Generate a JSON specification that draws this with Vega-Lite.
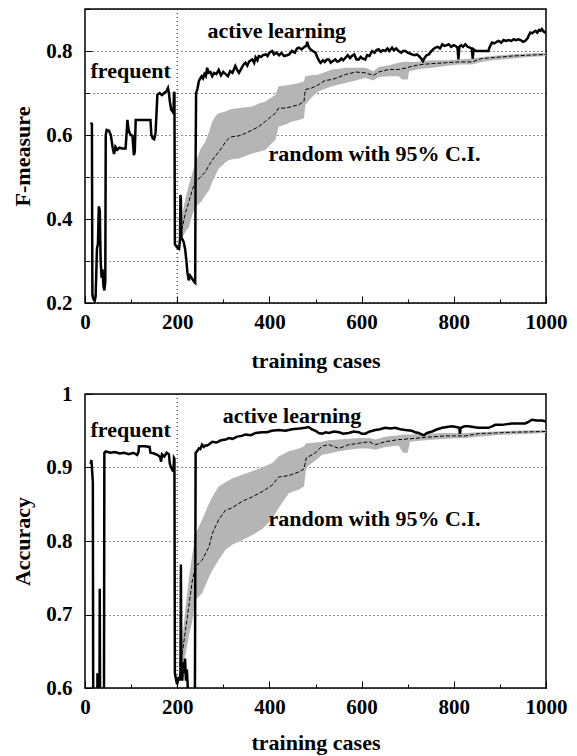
{
  "$schema": "https://vega.github.io/schema/vega-lite/v6.json",
  "padding": {"left": 11, "top": 7, "right": 5, "bottom": 3},
  "spacing": 10,
  "config": {
    "view": {"stroke": "#000", "strokeWidth": 1.5},
    "font": "Liberation Serif",
    "axis": {
      "labelFont": "Liberation Serif", "labelFontWeight": "bold", "labelFontSize": 21, "labelColor": "#000", "labelFlush": false,
      "titleFont": "Liberation Serif", "titleFontWeight": "bold", "titleFontSize": 22, "titleColor": "#000",
      "domain": false, "tickColor": "#000", "tickWidth": 1,
      "gridColor": "#000", "gridDash": [1, 3], "gridWidth": 1, "gridOpacity": 0.9
    }
  },
  "datasets": {
    "f_active": [
      {"x":13,"y":0.63},{"x":15,"y":0.625},{"x":16,"y":0.22},{"x":18,"y":0.21},{"x":21,"y":0.205},{"x":23,"y":0.215},{"x":26,"y":0.33},{"x":28,"y":0.34},{"x":30,"y":0.43},{"x":32,"y":0.42},{"x":34,"y":0.3},{"x":36,"y":0.26},{"x":38,"y":0.28},{"x":40,"y":0.24},{"x":42,"y":0.23},{"x":44,"y":0.25},{"x":45,"y":0.6},{"x":47,"y":0.612},{"x":52,"y":0.61},{"x":56,"y":0.6},{"x":60,"y":0.57},{"x":63,"y":0.555},{"x":66,"y":0.572},{"x":70,"y":0.565},{"x":75,"y":0.57},{"x":80,"y":0.568},{"x":88,"y":0.568},{"x":90,"y":0.6},{"x":92,"y":0.636},{"x":95,"y":0.61},{"x":99,"y":0.6},{"x":103,"y":0.598},{"x":106,"y":0.552},{"x":108,"y":0.56},{"x":110,"y":0.636},{"x":142,"y":0.636},{"x":144,"y":0.6},{"x":147,"y":0.592},{"x":150,"y":0.59},{"x":153,"y":0.604},{"x":155,"y":0.65},{"x":157,"y":0.696},{"x":162,"y":0.7},{"x":167,"y":0.695},{"x":172,"y":0.7},{"x":177,"y":0.705},{"x":180,"y":0.712},{"x":182,"y":0.7},{"x":184,"y":0.68},{"x":187,"y":0.66},{"x":190,"y":0.656},{"x":192,"y":0.652},{"x":193,"y":0.7},{"x":194,"y":0.7},{"x":195,"y":0.34},{"x":198,"y":0.335},{"x":202,"y":0.33},{"x":204,"y":0.329},{"x":206,"y":0.35},{"x":207,"y":0.457},{"x":208,"y":0.45},{"x":209,"y":0.357},{"x":212,"y":0.35},{"x":214,"y":0.345},{"x":217,"y":0.33},{"x":220,"y":0.3},{"x":222,"y":0.274},{"x":225,"y":0.254},{"x":228,"y":0.265},{"x":231,"y":0.26},{"x":234,"y":0.255},{"x":237,"y":0.25},{"x":239,"y":0.248},{"x":240,"y":0.55},{"x":241,"y":0.7},{"x":244,"y":0.71},{"x":247,"y":0.728},{"x":250,"y":0.735},{"x":253,"y":0.74},{"x":256,"y":0.735},{"x":259,"y":0.745},{"x":262,"y":0.74},{"x":265,"y":0.76},{"x":268,"y":0.748},{"x":272,"y":0.75},{"x":276,"y":0.74},{"x":280,"y":0.748},{"x":285,"y":0.745},{"x":290,"y":0.755},{"x":295,"y":0.742},{"x":300,"y":0.75},{"x":305,"y":0.745},{"x":310,"y":0.74},{"x":315,"y":0.752},{"x":320,"y":0.748},{"x":326,"y":0.764},{"x":330,"y":0.755},{"x":334,"y":0.748},{"x":340,"y":0.76},{"x":344,"y":0.768},{"x":348,"y":0.772},{"x":352,"y":0.765},{"x":356,"y":0.775},{"x":360,"y":0.778},{"x":363,"y":0.78},{"x":367,"y":0.772},{"x":370,"y":0.785},{"x":374,"y":0.778},{"x":377,"y":0.788},{"x":382,"y":0.786},{"x":386,"y":0.79},{"x":392,"y":0.792},{"x":396,"y":0.788},{"x":400,"y":0.796},{"x":406,"y":0.8},{"x":410,"y":0.792},{"x":415,"y":0.796},{"x":421,"y":0.79},{"x":426,"y":0.795},{"x":432,"y":0.788},{"x":438,"y":0.79},{"x":443,"y":0.792},{"x":449,"y":0.8},{"x":455,"y":0.796},{"x":460,"y":0.806},{"x":464,"y":0.808},{"x":470,"y":0.804},{"x":476,"y":0.81},{"x":480,"y":0.812},{"x":482,"y":0.822},{"x":485,"y":0.81},{"x":489,"y":0.804},{"x":494,"y":0.8},{"x":500,"y":0.796},{"x":504,"y":0.785},{"x":508,"y":0.776},{"x":511,"y":0.772},{"x":516,"y":0.778},{"x":520,"y":0.774},{"x":525,"y":0.78},{"x":529,"y":0.78},{"x":533,"y":0.772},{"x":538,"y":0.776},{"x":543,"y":0.78},{"x":547,"y":0.775},{"x":551,"y":0.776},{"x":556,"y":0.782},{"x":560,"y":0.778},{"x":565,"y":0.784},{"x":570,"y":0.79},{"x":575,"y":0.783},{"x":579,"y":0.788},{"x":584,"y":0.792},{"x":589,"y":0.78},{"x":594,"y":0.78},{"x":598,"y":0.786},{"x":602,"y":0.782},{"x":608,"y":0.78},{"x":612,"y":0.79},{"x":617,"y":0.788},{"x":623,"y":0.8},{"x":628,"y":0.796},{"x":632,"y":0.802},{"x":637,"y":0.804},{"x":642,"y":0.798},{"x":646,"y":0.802},{"x":651,"y":0.8},{"x":656,"y":0.806},{"x":660,"y":0.8},{"x":666,"y":0.808},{"x":670,"y":0.802},{"x":675,"y":0.806},{"x":680,"y":0.8},{"x":686,"y":0.796},{"x":690,"y":0.8},{"x":695,"y":0.8},{"x":700,"y":0.796},{"x":705,"y":0.794},{"x":709,"y":0.792},{"x":715,"y":0.79},{"x":720,"y":0.792},{"x":724,"y":0.788},{"x":728,"y":0.784},{"x":733,"y":0.776},{"x":737,"y":0.784},{"x":741,"y":0.79},{"x":746,"y":0.792},{"x":750,"y":0.798},{"x":755,"y":0.804},{"x":760,"y":0.808},{"x":765,"y":0.81},{"x":770,"y":0.806},{"x":775,"y":0.816},{"x":780,"y":0.812},{"x":785,"y":0.814},{"x":789,"y":0.816},{"x":794,"y":0.81},{"x":800,"y":0.814},{"x":804,"y":0.812},{"x":808,"y":0.808},{"x":810,"y":0.78},{"x":812,"y":0.81},{"x":816,"y":0.814},{"x":820,"y":0.81},{"x":825,"y":0.816},{"x":830,"y":0.81},{"x":835,"y":0.808},{"x":839,"y":0.806},{"x":841,"y":0.782},{"x":843,"y":0.804},{"x":848,"y":0.8},{"x":853,"y":0.8},{"x":860,"y":0.8},{"x":868,"y":0.8},{"x":875,"y":0.8},{"x":878,"y":0.81},{"x":883,"y":0.82},{"x":888,"y":0.818},{"x":893,"y":0.822},{"x":897,"y":0.824},{"x":903,"y":0.82},{"x":908,"y":0.826},{"x":913,"y":0.824},{"x":919,"y":0.826},{"x":925,"y":0.824},{"x":930,"y":0.828},{"x":935,"y":0.826},{"x":940,"y":0.828},{"x":945,"y":0.826},{"x":950,"y":0.822},{"x":955,"y":0.824},{"x":960,"y":0.83},{"x":963,"y":0.838},{"x":966,"y":0.844},{"x":970,"y":0.842},{"x":974,"y":0.846},{"x":977,"y":0.848},{"x":981,"y":0.844},{"x":985,"y":0.85},{"x":988,"y":0.848},{"x":991,"y":0.852},{"x":995,"y":0.846},{"x":998,"y":0.844},{"x":1000,"y":0.848}
    ],
    "f_random": [
      {"x":205,"mean":0.36,"lo":0.35,"hi":0.38},{"x":211,"mean":0.38,"lo":0.355,"hi":0.41},{"x":218,"mean":0.415,"lo":0.37,"hi":0.45},{"x":225,"mean":0.44,"lo":0.38,"hi":0.48},{"x":233,"mean":0.47,"lo":0.41,"hi":0.51},{"x":240,"mean":0.49,"lo":0.43,"hi":0.535},{"x":251,"mean":0.5,"lo":0.44,"hi":0.568},{"x":261,"mean":0.512,"lo":0.456,"hi":0.584},{"x":270,"mean":0.53,"lo":0.47,"hi":0.61},{"x":276,"mean":0.54,"lo":0.488,"hi":0.632},{"x":283,"mean":0.55,"lo":0.505,"hi":0.645},{"x":290,"mean":0.56,"lo":0.52,"hi":0.652},{"x":300,"mean":0.575,"lo":0.53,"hi":0.655},{"x":305,"mean":0.584,"lo":0.536,"hi":0.656},{"x":312,"mean":0.592,"lo":0.54,"hi":0.66},{"x":319,"mean":0.596,"lo":0.542,"hi":0.662},{"x":334,"mean":0.598,"lo":0.544,"hi":0.664},{"x":348,"mean":0.604,"lo":0.55,"hi":0.666},{"x":363,"mean":0.612,"lo":0.556,"hi":0.668},{"x":377,"mean":0.62,"lo":0.56,"hi":0.675},{"x":391,"mean":0.632,"lo":0.564,"hi":0.68},{"x":405,"mean":0.645,"lo":0.58,"hi":0.69},{"x":413,"mean":0.652,"lo":0.588,"hi":0.696},{"x":420,"mean":0.664,"lo":0.62,"hi":0.716},{"x":435,"mean":0.664,"lo":0.625,"hi":0.718},{"x":449,"mean":0.668,"lo":0.632,"hi":0.72},{"x":464,"mean":0.672,"lo":0.636,"hi":0.724},{"x":475,"mean":0.68,"lo":0.64,"hi":0.728},{"x":478,"mean":0.708,"lo":0.672,"hi":0.74},{"x":492,"mean":0.712,"lo":0.69,"hi":0.742},{"x":507,"mean":0.72,"lo":0.704,"hi":0.744},{"x":521,"mean":0.73,"lo":0.71,"hi":0.75},{"x":536,"mean":0.732,"lo":0.716,"hi":0.756},{"x":551,"mean":0.738,"lo":0.72,"hi":0.758},{"x":565,"mean":0.744,"lo":0.724,"hi":0.76},{"x":587,"mean":0.75,"lo":0.73,"hi":0.76},{"x":608,"mean":0.748,"lo":0.736,"hi":0.76},{"x":626,"mean":0.742,"lo":0.73,"hi":0.752},{"x":637,"mean":0.75,"lo":0.738,"hi":0.762},{"x":659,"mean":0.756,"lo":0.74,"hi":0.766},{"x":680,"mean":0.756,"lo":0.74,"hi":0.772},{"x":688,"mean":0.758,"lo":0.732,"hi":0.774},{"x":700,"mean":0.76,"lo":0.732,"hi":0.775},{"x":703,"mean":0.762,"lo":0.752,"hi":0.774},{"x":720,"mean":0.766,"lo":0.756,"hi":0.774},{"x":731,"mean":0.768,"lo":0.758,"hi":0.776},{"x":753,"mean":0.77,"lo":0.76,"hi":0.778},{"x":782,"mean":0.772,"lo":0.764,"hi":0.778},{"x":811,"mean":0.774,"lo":0.768,"hi":0.78},{"x":839,"mean":0.774,"lo":0.768,"hi":0.782},{"x":861,"mean":0.782,"lo":0.774,"hi":0.786},{"x":883,"mean":0.784,"lo":0.778,"hi":0.788},{"x":926,"mean":0.788,"lo":0.782,"hi":0.792},{"x":962,"mean":0.79,"lo":0.786,"hi":0.794},{"x":1000,"mean":0.792,"lo":0.788,"hi":0.796}
    ],
    "f_labels": [
      {"x":416,"y":0.832,"label":"active learning"},
      {"x":99,"y":0.735,"label":"frequent"},
      {"x":628,"y":0.539,"label":"random with 95% C.I."}
    ],
    "a_active": [
      {"x":12,"y":0.905},{"x":14,"y":0.91},{"x":15,"y":0.9},{"x":16,"y":0.89},{"x":17,"y":0.88},{"x":18,"y":0.5},{"x":26,"y":0.5},{"x":27,"y":0.62},{"x":28,"y":0.5},{"x":31,"y":0.5},{"x":32,"y":0.735},{"x":33,"y":0.5},{"x":41,"y":0.5},{"x":42,"y":0.92},{"x":45,"y":0.922},{"x":55,"y":0.92},{"x":65,"y":0.921},{"x":75,"y":0.919},{"x":85,"y":0.92},{"x":95,"y":0.918},{"x":105,"y":0.92},{"x":113,"y":0.917},{"x":116,"y":0.921},{"x":117,"y":0.929},{"x":130,"y":0.929},{"x":140,"y":0.928},{"x":142,"y":0.92},{"x":150,"y":0.919},{"x":158,"y":0.917},{"x":163,"y":0.914},{"x":165,"y":0.908},{"x":167,"y":0.918},{"x":172,"y":0.915},{"x":177,"y":0.92},{"x":182,"y":0.918},{"x":184,"y":0.905},{"x":187,"y":0.9},{"x":190,"y":0.896},{"x":192,"y":0.895},{"x":193,"y":0.913},{"x":194,"y":0.912},{"x":195,"y":0.62},{"x":198,"y":0.61},{"x":200,"y":0.605},{"x":203,"y":0.615},{"x":205,"y":0.61},{"x":207,"y":0.62},{"x":208,"y":0.768},{"x":209,"y":0.62},{"x":211,"y":0.61},{"x":213,"y":0.635},{"x":215,"y":0.62},{"x":217,"y":0.64},{"x":219,"y":0.61},{"x":221,"y":0.625},{"x":223,"y":0.6},{"x":224,"y":0.5},{"x":238,"y":0.5},{"x":240,"y":0.92},{"x":243,"y":0.922},{"x":247,"y":0.926},{"x":250,"y":0.925},{"x":254,"y":0.931},{"x":258,"y":0.928},{"x":261,"y":0.93},{"x":265,"y":0.93},{"x":270,"y":0.932},{"x":276,"y":0.935},{"x":285,"y":0.934},{"x":295,"y":0.937},{"x":305,"y":0.938},{"x":312,"y":0.94},{"x":320,"y":0.939},{"x":330,"y":0.942},{"x":340,"y":0.943},{"x":348,"y":0.945},{"x":360,"y":0.944},{"x":370,"y":0.947},{"x":384,"y":0.948},{"x":395,"y":0.948},{"x":405,"y":0.95},{"x":420,"y":0.951},{"x":435,"y":0.95},{"x":449,"y":0.952},{"x":465,"y":0.953},{"x":478,"y":0.954},{"x":485,"y":0.955},{"x":492,"y":0.952},{"x":500,"y":0.95},{"x":507,"y":0.947},{"x":515,"y":0.946},{"x":522,"y":0.948},{"x":529,"y":0.947},{"x":540,"y":0.949},{"x":551,"y":0.948},{"x":560,"y":0.946},{"x":572,"y":0.947},{"x":583,"y":0.949},{"x":594,"y":0.948},{"x":600,"y":0.946},{"x":608,"y":0.946},{"x":618,"y":0.949},{"x":630,"y":0.951},{"x":640,"y":0.952},{"x":651,"y":0.954},{"x":662,"y":0.953},{"x":673,"y":0.954},{"x":684,"y":0.952},{"x":695,"y":0.951},{"x":709,"y":0.95},{"x":716,"y":0.948},{"x":724,"y":0.947},{"x":730,"y":0.945},{"x":735,"y":0.944},{"x":742,"y":0.947},{"x":753,"y":0.949},{"x":764,"y":0.952},{"x":775,"y":0.954},{"x":785,"y":0.955},{"x":796,"y":0.956},{"x":805,"y":0.955},{"x":812,"y":0.954},{"x":813,"y":0.946},{"x":815,"y":0.954},{"x":823,"y":0.956},{"x":832,"y":0.956},{"x":842,"y":0.955},{"x":853,"y":0.954},{"x":864,"y":0.954},{"x":875,"y":0.954},{"x":883,"y":0.956},{"x":890,"y":0.958},{"x":905,"y":0.958},{"x":915,"y":0.959},{"x":926,"y":0.96},{"x":940,"y":0.96},{"x":955,"y":0.96},{"x":962,"y":0.962},{"x":969,"y":0.965},{"x":980,"y":0.964},{"x":991,"y":0.964},{"x":998,"y":0.963},{"x":1000,"y":0.963}
    ],
    "a_random": [
      {"x":205,"mean":0.63,"lo":0.62,"hi":0.64},{"x":211,"mean":0.647,"lo":0.629,"hi":0.665},{"x":218,"mean":0.679,"lo":0.645,"hi":0.71},{"x":225,"mean":0.71,"lo":0.67,"hi":0.747},{"x":233,"mean":0.747,"lo":0.692,"hi":0.783},{"x":240,"mean":0.765,"lo":0.72,"hi":0.81},{"x":254,"mean":0.774,"lo":0.729,"hi":0.829},{"x":269,"mean":0.792,"lo":0.751,"hi":0.851},{"x":276,"mean":0.81,"lo":0.76,"hi":0.86},{"x":290,"mean":0.829,"lo":0.774,"hi":0.874},{"x":305,"mean":0.842,"lo":0.788,"hi":0.88},{"x":319,"mean":0.845,"lo":0.795,"hi":0.885},{"x":341,"mean":0.854,"lo":0.801,"hi":0.89},{"x":363,"mean":0.86,"lo":0.808,"hi":0.895},{"x":384,"mean":0.867,"lo":0.816,"hi":0.9},{"x":406,"mean":0.876,"lo":0.83,"hi":0.906},{"x":420,"mean":0.887,"lo":0.845,"hi":0.915},{"x":442,"mean":0.889,"lo":0.865,"hi":0.922},{"x":464,"mean":0.894,"lo":0.87,"hi":0.926},{"x":475,"mean":0.898,"lo":0.874,"hi":0.929},{"x":480,"mean":0.913,"lo":0.9,"hi":0.933},{"x":500,"mean":0.92,"lo":0.91,"hi":0.934},{"x":514,"mean":0.929,"lo":0.917,"hi":0.935},{"x":529,"mean":0.931,"lo":0.919,"hi":0.937},{"x":551,"mean":0.926,"lo":0.922,"hi":0.938},{"x":572,"mean":0.931,"lo":0.924,"hi":0.939},{"x":594,"mean":0.933,"lo":0.926,"hi":0.94},{"x":616,"mean":0.935,"lo":0.926,"hi":0.94},{"x":630,"mean":0.931,"lo":0.924,"hi":0.938},{"x":651,"mean":0.935,"lo":0.928,"hi":0.942},{"x":680,"mean":0.938,"lo":0.93,"hi":0.944},{"x":690,"mean":0.938,"lo":0.92,"hi":0.945},{"x":700,"mean":0.939,"lo":0.92,"hi":0.945},{"x":705,"mean":0.939,"lo":0.935,"hi":0.945},{"x":738,"mean":0.941,"lo":0.937,"hi":0.946},{"x":782,"mean":0.943,"lo":0.939,"hi":0.947},{"x":825,"mean":0.943,"lo":0.94,"hi":0.947},{"x":853,"mean":0.946,"lo":0.942,"hi":0.948},{"x":890,"mean":0.947,"lo":0.944,"hi":0.949},{"x":926,"mean":0.948,"lo":0.945,"hi":0.95},{"x":1000,"mean":0.949,"lo":0.947,"hi":0.951}
    ],
    "a_labels": [
      {"x":449,"y":0.96,"label":"active learning"},
      {"x":99,"y":0.941,"label":"frequent"},
      {"x":628,"y":0.8203,"label":"random with 95% C.I."}
    ],
    "vline": [{"x":200}]
  },
  "vconcat": [
    {
      "width": 461, "height": 294,
      "layer": [
        {
          "data": {"name": "f_random"},
          "mark": {"type": "area", "color": "#b5b5b5", "opacity": 1},
          "encoding": {
            "x": {"field": "x", "type": "quantitative", "title": "training cases", "scale": {"domain": [0, 1000], "nice": false},
              "axis": {"values": [0,100,200,300,400,500,600,700,800,900,1000], "grid": false, "format": "d", "labelExpr": "datum.value % 200 == 0 ? datum.label : ''",
                "tickSize": {"condition": {"test": "datum.value % 200 == 0", "value": -7}, "value": -4}, "labelPadding": 15, "titlePadding": 18}},
            "y": {"field": "lo", "type": "quantitative", "title": "F-measure", "scale": {"domain": [0.2, 0.9], "nice": false, "zero": false},
              "axis": {"values": [0.2,0.3,0.4,0.5,0.6,0.7,0.8,0.9], "grid": true, "format": ".1f", "labelExpr": "round(datum.value*10) % 2 == 0 ? datum.label : ''",
                "tickSize": {"condition": {"test": "round(datum.value*10) % 2 == 0", "value": -7}, "value": -4}, "labelPadding": 20, "titlePadding": 11}},
            "y2": {"field": "hi"}
          }
        },
        {
          "data": {"name": "f_random"},
          "mark": {"type": "line", "color": "#000", "strokeWidth": 1, "strokeDash": [4, 2]},
          "encoding": {
            "x": {"field": "x", "type": "quantitative", "title": "training cases"},
            "y": {"field": "mean", "type": "quantitative", "title": "F-measure"}
          }
        },
        {
          "data": {"name": "vline"},
          "mark": {"type": "rule", "color": "#000", "strokeWidth": 1, "strokeDash": [1, 3]},
          "encoding": {"x": {"field": "x", "type": "quantitative", "title": "training cases"}}
        },
        {
          "data": {"name": "f_active"},
          "mark": {"type": "line", "color": "#000", "strokeWidth": 2.5, "clip": true},
          "encoding": {
            "x": {"field": "x", "type": "quantitative", "title": "training cases"},
            "y": {"field": "y", "type": "quantitative", "title": "F-measure"}
          }
        },
        {
          "data": {"name": "f_labels"},
          "mark": {"type": "text", "font": "Liberation Serif", "fontWeight": "bold", "fontSize": 22, "baseline": "alphabetic", "align": "center", "color": "#000"},
          "encoding": {
            "x": {"field": "x", "type": "quantitative", "title": "training cases"},
            "y": {"field": "y", "type": "quantitative", "title": "F-measure"},
            "text": {"field": "label"}
          }
        }
      ]
    },
    {
      "width": 461, "height": 294,
      "layer": [
        {
          "data": {"name": "a_random"},
          "mark": {"type": "area", "color": "#b5b5b5", "opacity": 1},
          "encoding": {
            "x": {"field": "x", "type": "quantitative", "title": "training cases", "scale": {"domain": [0, 1000], "nice": false},
              "axis": {"values": [0,100,200,300,400,500,600,700,800,900,1000], "grid": false, "format": "d", "labelExpr": "datum.value % 200 == 0 ? datum.label : ''",
                "tickSize": {"condition": {"test": "datum.value % 200 == 0", "value": -7}, "value": -4}, "labelPadding": 15, "titlePadding": 15}},
            "y": {"field": "lo", "type": "quantitative", "title": "Accuracy", "scale": {"domain": [0.6, 1.0], "nice": false, "zero": false},
              "axis": {"values": [0.6,0.65,0.7,0.75,0.8,0.85,0.9,0.95,1.0], "grid": true, "format": ".2~f", "labelExpr": "round(datum.value*20) % 2 == 0 ? datum.label : ''",
                "tickSize": {"condition": {"test": "round(datum.value*20) % 2 == 0", "value": -7}, "value": -4}, "labelPadding": 20, "titlePadding": 11}},
            "y2": {"field": "hi"}
          }
        },
        {
          "data": {"name": "a_random"},
          "mark": {"type": "line", "color": "#000", "strokeWidth": 1, "strokeDash": [4, 2]},
          "encoding": {
            "x": {"field": "x", "type": "quantitative", "title": "training cases"},
            "y": {"field": "mean", "type": "quantitative", "title": "Accuracy"}
          }
        },
        {
          "data": {"name": "vline"},
          "mark": {"type": "rule", "color": "#000", "strokeWidth": 1, "strokeDash": [1, 3]},
          "encoding": {"x": {"field": "x", "type": "quantitative", "title": "training cases"}}
        },
        {
          "data": {"name": "a_active"},
          "mark": {"type": "line", "color": "#000", "strokeWidth": 2.5, "clip": true},
          "encoding": {
            "x": {"field": "x", "type": "quantitative", "title": "training cases"},
            "y": {"field": "y", "type": "quantitative", "title": "Accuracy"}
          }
        },
        {
          "data": {"name": "a_labels"},
          "mark": {"type": "text", "font": "Liberation Serif", "fontWeight": "bold", "fontSize": 22, "baseline": "alphabetic", "align": "center", "color": "#000"},
          "encoding": {
            "x": {"field": "x", "type": "quantitative", "title": "training cases"},
            "y": {"field": "y", "type": "quantitative", "title": "Accuracy"},
            "text": {"field": "label"}
          }
        }
      ]
    }
  ]
}
